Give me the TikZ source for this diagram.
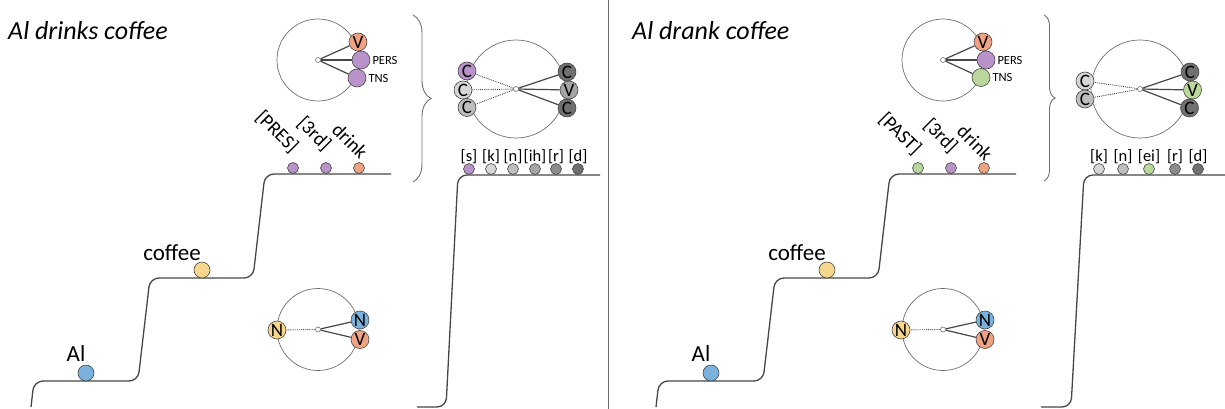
\documentclass[tikz,border=0pt]{standalone}
\usepackage{fontspec}
\setmainfont{Carlito}
\usetikzlibrary{
    decorations.pathreplacing
}
\definecolor{alblue}{RGB}{122,178,221}
\definecolor{cofyellow}{RGB}{246,214,140}
\definecolor{vorange}{RGB}{240,163,131}
\definecolor{fpurple}{RGB}{184,146,200}
\definecolor{tgreen}{RGB}{186,216,155}
\definecolor{grayA}{RGB}{214,214,214}
\definecolor{grayB}{RGB}{190,190,190}
\definecolor{grayC}{RGB}{165,165,165}
\definecolor{grayD}{RGB}{140,140,140}
\definecolor{grayE}{RGB}{112,112,112}
\definecolor{linegray}{RGB}{70,70,70}
\definecolor{ringgray}{RGB}{110,110,110}
\tikzset{
  stair/.style={draw=linegray, line width=1.3pt, rounded corners=9pt},
  ring/.style={draw=ringgray, line width=0.7pt},
  hub/.style={circle, draw=ringgray, fill=white, line width=0.6pt, minimum size=5pt, inner sep=0pt},
  seg/.style={circle, draw=linegray, line width=0.6pt, minimum size=18pt, inner sep=0pt, font=\fontsize{19}{19}\selectfont},
  dot/.style={circle, draw=linegray, line width=0.6pt, minimum size=11pt, inner sep=0pt},
  ball/.style={circle, draw=linegray, line width=0.6pt, minimum size=16pt, inner sep=0pt},
  spoke/.style={draw=linegray, line width=1.2pt},
  faint/.style={draw=linegray, line width=0.9pt, densely dotted},
  word/.style={font=\fontsize{23}{23}\selectfont, inner sep=0pt},
  tag/.style={font=\fontsize{19.5}{19.5}\selectfont, rotate=-45, inner sep=0pt},
  phon/.style={font=\fontsize{16.5}{16.5}\selectfont, inner sep=0pt},
  feat/.style={font=\fontsize{12.5}{12.5}\selectfont, inner sep=2pt, anchor=west},
  headline/.style={font=\fontsize{26}{26}\selectfont\itshape, anchor=base west, inner sep=0pt}
}

\begin{document}
\begin{tikzpicture}[x=1pt, y=-1pt]
    \useasboundingbox (0,0) rectangle (1225,409);

    % 区切り
    \draw[ringgray, line width=1pt] (608,0) -- (608,409);

    %%%%% 左: Al drinks coffee
    \node[headline] (titleL) at (8,40) {Al drinks coffee};

    % 階段
    \draw[stair] (31,407) -- (34,381) -- (138,381) -- (150,278) -- (253,278) -- (265,174) -- (391,174);
    \draw[stair] (417,407) -- (446,407) -- (458,175) -- (600,175);

    % 単語
    \node[ball, fill=alblue] (alL) at (86,373) {};
    \node[ball, fill=cofyellow] (cofL) at (202,270) {};
    \node[word] (tAlL) at (76,354) {Al};
    \node[word] (tCofL) at (172,253) {coffee};

    % 形態素
    \node[dot, fill=fpurple] (presL) at (293,168) {};
    \node[dot, fill=fpurple] (thirdL) at (326,168) {};
    \node[dot, fill=vorange] (drinkL) at (359,168) {};
    \node[tag] (tPresL) at (277,132) {[PRES]};
    \node[tag] (tThirdL) at (314,134) {[3rd]};
    \node[tag] (tDrinkL) at (350,141) {drink};

    % 音素
    \node[dot, fill=fpurple] (sL) at (469,169) {};
    \node[dot, fill=grayA] (kL) at (491,169) {};
    \node[dot, fill=grayB] (nL) at (513,169) {};
    \node[dot, fill=grayC] (ihL) at (535,169) {};
    \node[dot, fill=grayD] (rL) at (556,169) {};
    \node[dot, fill=grayE] (dL) at (578,169) {};
    \node[phon] (tsL) at (469,157) {[s]};
    \node[phon] (tkL) at (491,157) {[k]};
    \node[phon] (tnL) at (513,157) {[n]};
    \node[phon] (tihL) at (535,157) {[ih]};
    \node[phon] (trL) at (556,157) {[r]};
    \node[phon] (tdL) at (578,157) {[d]};

    % 括弧
    \draw[ringgray, line width=0.9pt, decorate, decoration={brace, amplitude=18pt}] (413,15) -- (413,182);

    % 円: 動詞
    \node[hub] (hubVL) at (318,60) {};
    \draw[ring] (hubVL.center) circle (41);
    \node[seg, fill=vorange] (vL) at (358,42) {V};
    \node[seg, fill=fpurple] (persL) at (361,60) {};
    \node[seg, fill=fpurple] (tnsL) at (357,78) {};
    \node[feat] (tPersL) at (persL.east) {PERS};
    \node[feat] (tTnsL) at (tnsL.east) {TNS};
    \draw[spoke] (hubVL) -- (vL);
    \draw[spoke] (hubVL) -- (persL);
    \draw[spoke] (hubVL) -- (tnsL);

    % 円: 名詞句
    \node[hub] (hubNL) at (318,329.5) {};
    \draw[ring] (hubNL.center) circle (41);
    \node[seg, fill=cofyellow] (n1L) at (277,330) {N};
    \node[seg, fill=alblue] (n2L) at (360,320) {N};
    \node[seg, fill=vorange] (n3L) at (360,339.5) {V};
    \draw[faint] (hubNL) -- (n1L);
    \draw[spoke] (hubNL) -- (n2L);
    \draw[spoke] (hubNL) -- (n3L);

    % 円: 音節
    \node[hub] (hubSL) at (516,89) {};
    \draw[ring] (hubSL.center) circle (49);
    \node[seg, fill=fpurple] (c1L) at (467,71) {C};
    \node[seg, fill=grayA] (c2L) at (463,90) {C};
    \node[seg, fill=grayB] (c3L) at (467,107.5) {C};
    \node[seg, fill=grayE] (c4L) at (567,72) {C};
    \node[seg, fill=grayC] (c5L) at (569,90) {V};
    \node[seg, fill=grayE] (c6L) at (567,108) {C};
    \draw[faint] (hubSL) -- (c1L);
    \draw[faint] (hubSL) -- (c2L);
    \draw[faint] (hubSL) -- (c3L);
    \draw[spoke] (hubSL) -- (c4L);
    \draw[spoke] (hubSL) -- (c5L);
    \draw[spoke] (hubSL) -- (c6L);

    %%%%% 右: Al drank coffee
    \begin{scope}[shift={(625,0)}]
    \node[headline] (titleR) at (7,40) {Al drank coffee};

    % 階段
    \draw[stair] (31,407) -- (34,381) -- (138,381) -- (150,278) -- (253,278) -- (265,174) -- (391,174);
    \draw[stair] (416,407) -- (446,407) -- (459,175) -- (600,175);

    % 単語
    \node[ball, fill=alblue] (alR) at (86,373) {};
    \node[ball, fill=cofyellow] (cofR) at (202,270) {};
    \node[word] (tAlR) at (76,354) {Al};
    \node[word] (tCofR) at (172,253) {coffee};

    % 形態素
    \node[dot, fill=tgreen] (pastR) at (293,168) {};
    \node[dot, fill=fpurple] (thirdR) at (326,168) {};
    \node[dot, fill=vorange] (drinkR) at (359,168) {};
    \node[tag] (tPastR) at (275,134) {[PAST]};
    \node[tag] (tThirdR) at (315.5,136) {[3rd]};
    \node[tag] (tDrinkR) at (350,142.5) {drink};

    % 音素
    \node[dot, fill=grayA] (kR) at (474,169) {};
    \node[dot, fill=grayB] (nR) at (498,169) {};
    \node[dot, fill=tgreen] (eiR) at (524,169) {};
    \node[dot, fill=grayD] (rR) at (550,169) {};
    \node[dot, fill=grayE] (dR) at (573,169) {};
    \node[phon] (tkR) at (474,157) {[k]};
    \node[phon] (tnR) at (498,157) {[n]};
    \node[phon] (teiR) at (524,157) {[ei]};
    \node[phon] (trR) at (550,157) {[r]};
    \node[phon] (tdR) at (573,157) {[d]};

    % 括弧
    \draw[ringgray, line width=0.9pt, decorate, decoration={brace, amplitude=11pt}] (419,15) -- (419,181);

    % 円: 動詞
    \node[hub] (hubVR) at (318,60) {};
    \draw[ring] (hubVR.center) circle (41);
    \node[seg, fill=vorange] (vR) at (358,42) {V};
    \node[seg, fill=fpurple] (persR) at (361,60) {};
    \node[seg, fill=tgreen] (tnsR) at (356,77.5) {};
    \node[feat] (tPersR) at (persR.east) {PERS};
    \node[feat] (tTnsR) at (tnsR.east) {TNS};
    \draw[spoke] (hubVR) -- (vR);
    \draw[spoke] (hubVR) -- (persR);
    \draw[spoke] (hubVR) -- (tnsR);

    % 円: 名詞句
    \node[hub] (hubNR) at (318,329.5) {};
    \draw[ring] (hubNR.center) circle (41);
    \node[seg, fill=cofyellow] (n1R) at (276,330) {N};
    \node[seg, fill=alblue] (n2R) at (360,320) {N};
    \node[seg, fill=vorange] (n3R) at (360,339.5) {V};
    \draw[faint] (hubNR) -- (n1R);
    \draw[spoke] (hubNR) -- (n2R);
    \draw[spoke] (hubNR) -- (n3R);

    % 円: 音節
    \node[hub] (hubSR) at (515,89) {};
    \draw[ring] (hubSR.center) circle (49);
    \node[seg, fill=grayA] (c1R) at (460,81) {C};
    \node[seg, fill=grayB] (c2R) at (460,99) {C};
    \node[seg, fill=grayE] (c3R) at (565,72) {C};
    \node[seg, fill=tgreen] (c4R) at (567.5,90) {V};
    \node[seg, fill=grayE] (c5R) at (564.5,108) {C};
    \draw[faint] (hubSR) -- (c1R);
    \draw[faint] (hubSR) -- (c2R);
    \draw[spoke] (hubSR) -- (c3R);
    \draw[spoke] (hubSR) -- (c4R);
    \draw[spoke] (hubSR) -- (c5R);
    \end{scope}
\end{tikzpicture}
\end{document}
